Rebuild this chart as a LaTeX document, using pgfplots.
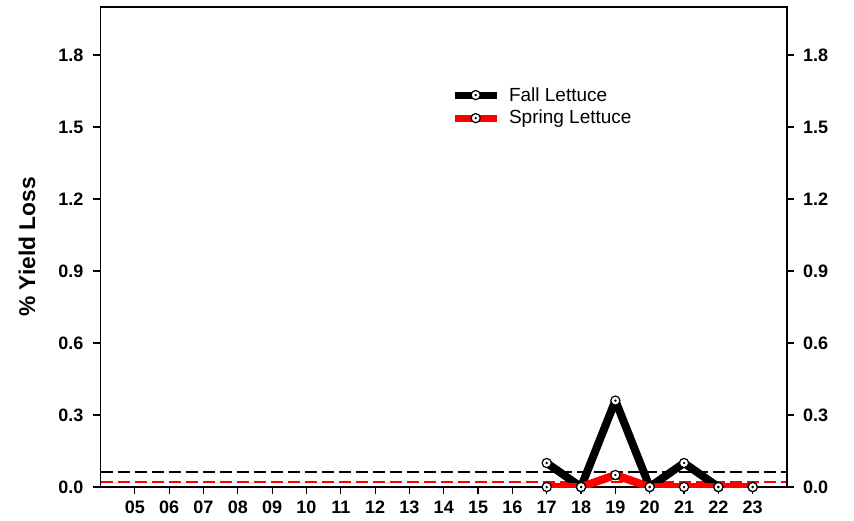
\documentclass[border=0pt]{standalone}
\usepackage{pgfplots}
\pgfplotsset{compat=1.18}
\usepackage{fontspec}
\setmainfont{Liberation Sans}
\definecolor{myred}{RGB}{255,0,0}
\begin{document}
\begin{tikzpicture}
\pgfplotsset{
  common/.style={
    scale only axis, width=343.25pt, height=240pt,
    xmin=4, xmax=24, ymin=0, ymax=2,
    ytick={0,0.3,0.6,0.9,1.2,1.5,1.8},
    tick align=outside, major tick length=3.5pt,
    tick style={black, line width=0.6pt},
    axis line style={line width=0.6pt},
    /pgf/number format/assume math mode=true,
    /pgf/number format/fixed,
    /pgf/number format/fixed zerofill,
    /pgf/number format/precision=1,
    tick label style={font=\bfseries\fontsize{9}{10}\selectfont},
  },
  mk/.style={mark=*, mark size=2.3pt,
    mark options={solid, fill=white, draw=black, line width=0.6pt}},
}
\pgfplotstableread{
x fall spring
17 0.10 0
18 0    0
19 0.36 0.05
20 0    0
21 0.10 0
22 0    0
23 0    0
}\lettuce
\begin{axis}[common, name=a,
  xtick={5,...,23},
  xticklabels={05,06,07,08,09,10,11,12,13,14,15,16,17,18,19,20,21,22,23},
  xtick pos=bottom, ytick pos=left,
  ylabel={\bfseries\fontsize{11.4}{12}\selectfont \% Yield Loss},
  ylabel style={at={(axis description cs:-0.107,0.5)}, anchor=center},
  yticklabel style={xshift=-1.5pt},
]
\addplot[black, line width=1pt, dash pattern=on 6pt off 2.5pt] coordinates {(4,0.061) (24,0.061)};
\addplot[myred, line width=1pt, dash pattern=on 6pt off 2.5pt] coordinates {(4,0.019) (24,0.019)};
\addplot[black, line width=4pt, line join=round] table[x=x, y=fall] {\lettuce};
\addplot[myred, line width=4pt, line join=round] table[x=x, y=spring] {\lettuce};
\addplot[only marks, mk] table[x=x, y=fall] {\lettuce};
\addplot[only marks, mk] table[x=x, y=spring] {\lettuce};
\addplot[only marks, mark=*, mark size=0.35pt, black] table[x=x, y=fall] {\lettuce};
\addplot[only marks, mark=*, mark size=0.35pt, black] table[x=x, y=spring] {\lettuce};
% legend samples
\addplot[black, line width=3.5pt] coordinates {(14.32,1.633) (15.54,1.633)};
\addplot[myred, line width=3.5pt] coordinates {(14.32,1.537) (15.54,1.537)};
\addplot[only marks, mk] coordinates {(14.93,1.633) (14.93,1.537)};
\addplot[only marks, mark=*, mark size=0.35pt, black] coordinates {(14.93,1.633) (14.93,1.537)};
\node[anchor=west, inner sep=0pt, font=\fontsize{9.5}{10}\selectfont] at (axis cs:15.89,1.633) {Fall Lettuce};
\node[anchor=west, inner sep=0pt, font=\fontsize{9.5}{10}\selectfont] at (axis cs:15.89,1.537) {Spring Lettuce};
\end{axis}
\begin{axis}[common,
  axis x line=none, axis y line*=right,
  yticklabel style={xshift=1pt},
]
\end{axis}
\pgfresetboundingbox
\path ([shift={(-50.25pt,-16.5pt)}]a.south west) rectangle ([shift={(33.5pt,3.5pt)}]a.north east);
\end{tikzpicture}
\end{document}
